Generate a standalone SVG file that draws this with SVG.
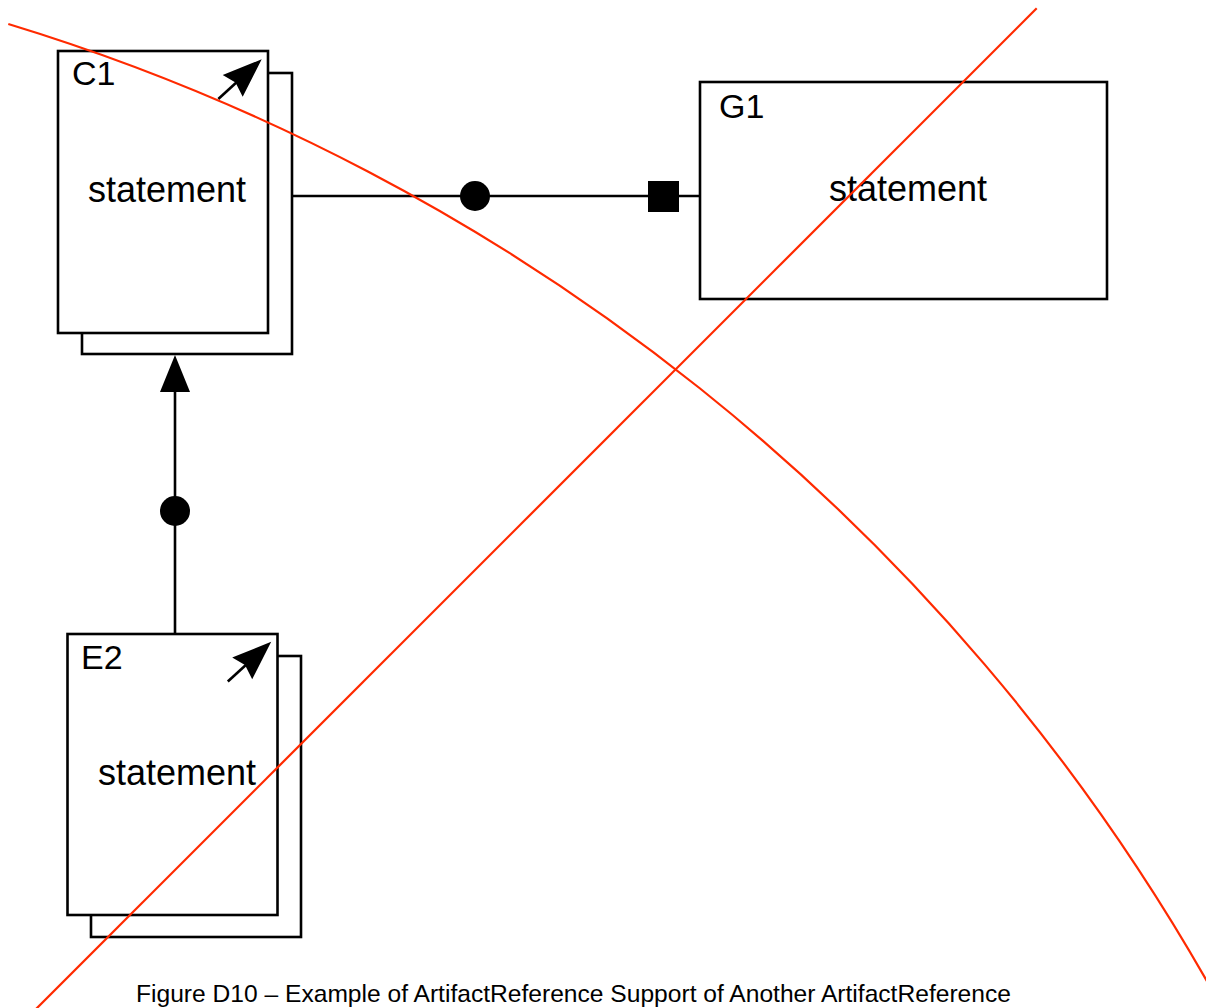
<svg xmlns="http://www.w3.org/2000/svg" width="1206" height="1008" viewBox="0 0 1206 1008">
  <style>
    .box { fill: #ffffff; stroke: #000000; stroke-width: 2.6; }
    .line { fill: none; stroke: #000000; stroke-width: 2.6; }
    .fill { fill: #000000; stroke: none; }
    .label { font-family: "Liberation Sans", Arial, sans-serif; font-size: 34px; fill: #000000; }
    .stmt { font-family: "Liberation Sans", Arial, sans-serif; font-size: 36px; fill: #000000; }
    .caption { font-family: "Liberation Sans", Arial, sans-serif; font-size: 24.6px; fill: #000000; }
    .cross { fill: none; stroke: #ff2a00; stroke-width: 2.2; }
  </style>
  <defs>
    <g id="refArrow">
      <line x1="160.3" y1="48" x2="180" y2="30" class="line" stroke-width="2.4"/>
      <polygon points="203.7,8.3 164.7,24 177.5,31.5 184.7,45.7" class="fill"/>
    </g>
  </defs>
  <rect width="1206" height="1008" fill="#ffffff"/>

  <g id="connectors">
    <line x1="292" y1="196" x2="700" y2="196" class="line"/>
    <circle cx="475" cy="196" r="15" class="fill"/>
    <rect x="648" y="181" width="31" height="31" class="fill"/>
    <line x1="175" y1="385" x2="175" y2="634" class="line"/>
    <polygon points="175,355 160,392 190,392" class="fill"/>
    <circle cx="175" cy="511" r="15" class="fill"/>
  </g>

  <g id="node-C1">
    <rect x="82" y="73" width="210" height="281" class="box"/>
    <rect x="58" y="51" width="210" height="282" class="box"/>
    <text x="72" y="85" class="label">C1</text>
    <text x="167" y="202" class="stmt" text-anchor="middle">statement</text>
    <use href="#refArrow" transform="translate(58,51)"/>
  </g>

  <g id="node-G1">
    <rect x="700" y="82" width="407" height="217" class="box"/>
    <text x="719" y="118" class="label">G1</text>
    <text x="908" y="201" class="stmt" text-anchor="middle">statement</text>
  </g>

  <g id="node-E2">
    <rect x="91" y="656" width="210" height="281" class="box"/>
    <rect x="67.5" y="634" width="210" height="281" class="box"/>
    <text x="81" y="669" class="label">E2</text>
    <text x="177" y="785" class="stmt" text-anchor="middle">statement</text>
    <use href="#refArrow" transform="translate(67.5,633.5)"/>
  </g>

  <text x="136" y="1002" class="caption">Figure D10 – Example of ArtifactReference Support of Another ArtifactReference</text>

  <g id="crossout">
    <line x1="1036.7" y1="8.3" x2="35" y2="1010" class="cross"/>
    <path d="M 8.3 24 A 2076.6 2076.6 0 0 1 1208 983" class="cross"/>
  </g>
</svg>
